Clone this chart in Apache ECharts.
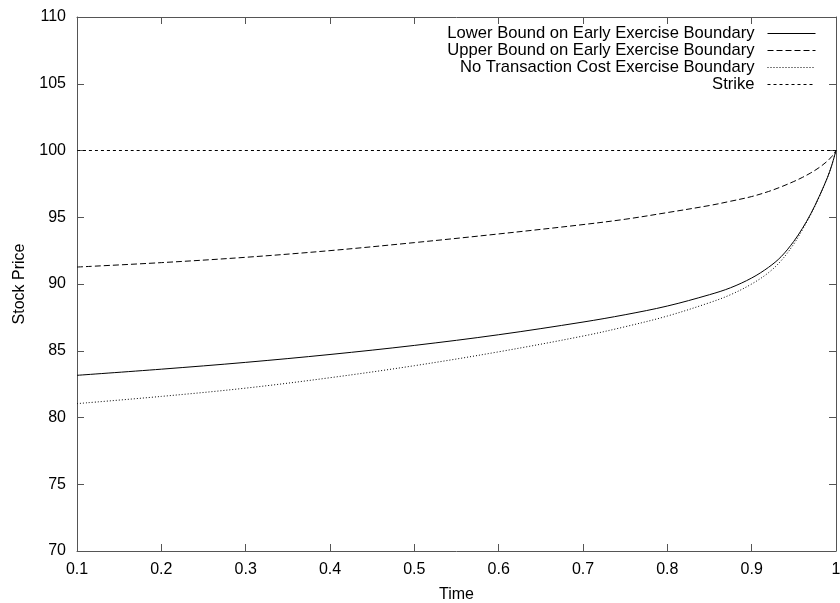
<!DOCTYPE html>
<html>
<head>
<meta charset="utf-8">
<script src="https://cdn.jsdelivr.net/npm/echarts@6/dist/echarts.min.js"></script>
<style>html,body{margin:0;padding:0;background:#fff}#c{width:840px;height:603px}</style>
</head>
<body>
<div id="c"></div>
<script>
const time = [0.1,0.2,0.3,0.4,0.5,0.6,0.7,0.75,0.8,0.85,0.875,0.9,0.92,0.935,0.95,0.96,0.97,0.98,0.99,0.995,1.0];
const lowerBound = [83.16,83.62,84.13,84.72,85.4,86.2,87.15,87.7,88.35,89.2,89.72,90.45,91.25,92.05,93.2,94.15,95.25,96.55,98.0,98.9,100];
const upperBound = [91.27,91.6,92.0,92.5,93.1,93.75,94.45,94.85,95.35,95.88,96.2,96.55,96.93,97.28,97.68,97.98,98.32,98.72,99.22,99.55,100];
const noCostBoundary = [81.04,81.58,82.2,82.98,83.88,84.92,86.1,86.8,87.6,88.6,89.2,90.0,90.85,91.75,93.0,94.05,95.2,96.5,98.0,98.9,100];
const strikeTime = [0.1, 1.0];
const strikeValue = [100, 100];
const seriesNames = ['Lower Bound on Early Exercise Boundary','Upper Bound on Early Exercise Boundary','No Transaction Cost Exercise Boundary','Strike'];
const xTicks = {min:0.1, max:1, interval:0.1};
const yTicks = {min:70, max:110, interval:5};

const zip = (xs, ys) => xs.map((x,i)=>[x, ys[i]]);
const font = 'Liberation Sans, Arial, Helvetica, sans-serif';
const axisColor = '#555';

const chart = echarts.init(document.getElementById('c'), null, {renderer:'canvas'});
const baseAxisX = {
  type:'value', min:xTicks.min, max:xTicks.max, interval:xTicks.interval,
  axisLine:{show:true, onZero:false, lineStyle:{color:axisColor, width:1}},
  axisTick:{show:true, inside:true, length:7, lineStyle:{color:axisColor}},
  splitLine:{show:false}
};
const baseAxisY = {
  type:'value', min:yTicks.min, max:yTicks.max, interval:yTicks.interval,
  axisLine:{show:true, onZero:false, lineStyle:{color:axisColor, width:1}},
  axisTick:{show:true, inside:true, length:7, lineStyle:{color:axisColor}},
  splitLine:{show:false}
};
const lineSeries = (name, data, type) => ({
  name, type:'line', data, symbol:'none', smooth:0.35,
  xAxisIndex:0, yAxisIndex:0,
  lineStyle:{color:'#000', width:1, type},
  itemStyle:{color:'#000'},
  emphasis:{disabled:true}, animation:false
});
chart.setOption({
  animation:false,
  textStyle:{fontFamily:font},
  grid:{left:77, right:4, top:17, bottom:52, containLabel:false, outerBoundsMode:'none'},
  legend:{
    orient:'vertical', right:24, top:25, align:'right', padding:0,
    itemWidth:48, itemHeight:14, itemGap:0,
    itemStyle:{opacity:0},
    lineStyle:{width:1},
    textStyle:{fontSize:16.6, fontFamily:font, color:'#000', padding:[0,8,0,0]},
    data:seriesNames
  },
  xAxis:[
    Object.assign({}, baseAxisX, {position:'bottom', name:'Time', nameLocation:'middle', nameGap:36,
      nameTextStyle:{fontSize:16, color:'#000', fontFamily:font},
      axisLabel:{fontSize:16, color:'#000', margin:10.5, fontFamily:font}}),
    Object.assign({}, baseAxisX, {position:'top', axisLabel:{show:false}})
  ],
  yAxis:[
    Object.assign({}, baseAxisY, {position:'left', name:'Stock Price', nameLocation:'middle', nameGap:49,
      nameTextStyle:{fontSize:16, color:'#000', fontFamily:font},
      axisLabel:{fontSize:16, color:'#000', margin:11, fontFamily:font}}),
    Object.assign({}, baseAxisY, {position:'right', axisLabel:{show:false}})
  ],
  series:[
    lineSeries(seriesNames[0], zip(time, lowerBound), 'solid'),
    lineSeries(seriesNames[1], zip(time, upperBound), [6,3]),
    lineSeries(seriesNames[2], zip(time, noCostBoundary), [1,2]),
    lineSeries(seriesNames[3], zip(strikeTime, strikeValue), [3,3])
  ]
});
</script>
</body>
</html>
